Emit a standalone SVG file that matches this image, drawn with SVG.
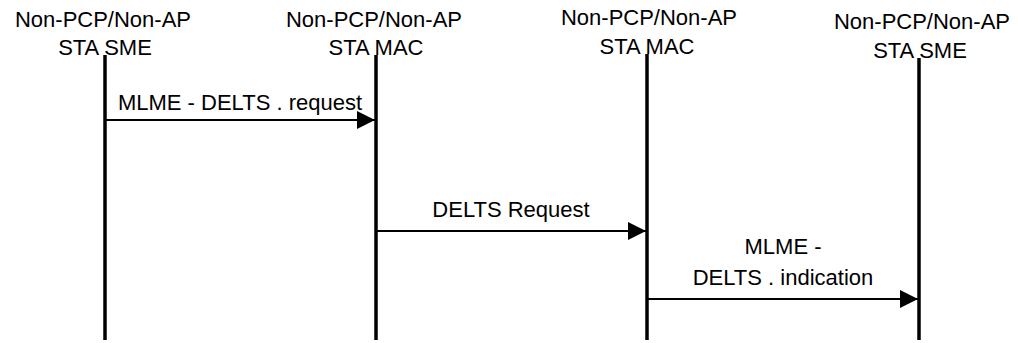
<svg xmlns="http://www.w3.org/2000/svg" width="1018" height="343" viewBox="0 0 1018 343">
<style>
text{font-family:"Liberation Sans",Arial,sans-serif;font-size:22px;fill:#000;text-anchor:middle}
.life{stroke:#000;stroke-width:3.5;fill:none}
.msg{stroke:#000;stroke-width:2;fill:none;marker-end:url(#ah)}
</style>
<defs>
<marker id="ah" markerUnits="userSpaceOnUse" markerWidth="20" markerHeight="20" refX="18" refY="9" orient="auto">
<path d="M0,0 L18,9 L0,18 Z" fill="#000"/>
</marker>
</defs>
<rect width="1018" height="343" fill="#fff"/>
<g id="sta-sme-left">
<text x="103" y="27">Non-PCP/Non-AP</text>
<text x="105" y="55">STA SME</text>
<line class="life" x1="105" y1="55" x2="105" y2="340"/>
</g>
<g id="sta-mac-left">
<text x="374" y="27">Non-PCP/Non-AP</text>
<text x="376" y="55">STA MAC</text>
<line class="life" x1="376" y1="55" x2="376" y2="340"/>
</g>
<g id="sta-mac-right">
<text x="649" y="25">Non-PCP/Non-AP</text>
<text x="647" y="54">STA MAC</text>
<line class="life" x1="647" y1="54" x2="647" y2="340"/>
</g>
<g id="sta-sme-right">
<text x="922" y="29">Non-PCP/Non-AP</text>
<text x="920" y="58">STA SME</text>
<line class="life" x1="919" y1="58" x2="919" y2="340"/>
</g>
<g id="connectors">
<line class="msg" x1="106" y1="120" x2="375" y2="120"/>
<text x="240" y="110">MLME - DELTS . request</text>
<line class="msg" x1="377" y1="231" x2="646" y2="231"/>
<text x="511" y="217">DELTS Request</text>
<line class="msg" x1="648" y1="299" x2="918" y2="299"/>
<text x="783" y="254">MLME -</text>
<text x="783" y="285">DELTS . indication</text>
</g>
</svg>
